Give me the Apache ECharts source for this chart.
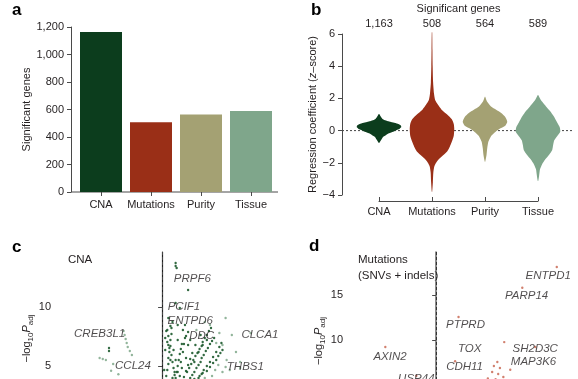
<!DOCTYPE html>
<html><head><meta charset="utf-8">
<script src="https://cdn.jsdelivr.net/npm/echarts@6/dist/echarts.min.js"></script>
<style>html,body{margin:0;padding:0;background:#fff}#c{width:578px;height:379px}</style>
</head><body><div id="c"></div>
<script>
// ---------- data ----------
const categories = ['CNA', 'Mutations', 'Purity', 'Tissue'];
const sigGenes = [1163, 508, 564, 589];
const panelColors = ['#0c3d1d', '#9a2f17', '#a4a173', '#7fa68b'];

// violin profiles (regression coefficient z-score, relative density)
const violinCnaY = [1.03, 0.85, 0.7, 0.6, 0.5, 0.42, 0.32, 0.22, 0.12, 0.02, -0.07, -0.17, -0.27, -0.4, -0.55, -0.77];
const violinCnaDensity = [0.01, 0.09, 0.18, 0.36, 0.64, 0.84, 0.98, 1.0, 0.93, 0.77, 0.64, 0.45, 0.32, 0.18, 0.11, 0.01];
const violinMutY = [6.1, 5, 4, 3, 2.3, 1.9, 1.6, 1.3, 1.0, 0.7, 0.4, 0.1, -0.3, -0.7, -1.0, -1.3, -1.6, -1.9, -2.2, -2.6, -3.2, -3.8];
const violinMutDensity = [0.01, 0.02, 0.03, 0.05, 0.09, 0.14, 0.27, 0.43, 0.68, 0.89, 0.98, 1.0, 0.98, 0.89, 0.8, 0.68, 0.45, 0.23, 0.11, 0.06, 0.04, 0.01];
const violinPurY = [2.1, 1.8, 1.5, 1.3, 1.1, 0.85, 0.55, 0.3, 0.1, -0.1, -0.35, -0.7, -1.1, -1.5, -1.93];
const violinPurDensity = [0.01, 0.09, 0.27, 0.5, 0.73, 0.91, 1.0, 0.91, 0.64, 0.45, 0.27, 0.15, 0.1, 0.07, 0.01];
const violinTisY = [2.21, 2.0, 1.8, 1.5, 1.2, 0.9, 0.5, 0.2, -0.07, -0.35, -0.6, -0.9, -1.2, -1.5, -1.8, -2.1, -2.4, -2.8, -3.13];
const violinTisDensity = [0.01, 0.09, 0.18, 0.36, 0.55, 0.7, 0.86, 0.98, 1.0, 0.86, 0.73, 0.68, 0.64, 0.5, 0.32, 0.18, 0.09, 0.05, 0.01];

// volcano c (CNA): [coefficient, -log10 Padj]
const cnaDarkPoints = [
  [0.13,13.73],[0.13,13.47],[0.14,13.31],[0.25,11.44],[0.13,10.34],[0.17,9.92],[0.06,9.07],[0.08,8.39],[0.04,7.97],
  [0.04,4.15],[0.05,4.66],[0.06,5.17],[0.06,5.68],[0.07,6.19],[0.08,6.69],[0.08,7.20],[0.09,7.71],[0.09,8.22],[0.10,8.73],
  [0.13,3.98],[0.14,4.49],[0.15,5.00],[0.16,5.51],[0.17,6.02],[0.18,6.44],[0.19,6.86],
  [0.27,3.98],[0.29,4.24],[0.31,4.49],[0.33,4.83],[0.35,5.08],[0.37,5.34],[0.38,5.68],[0.40,5.93],[0.42,6.27],[0.44,6.53],[0.46,6.86],[0.48,7.12],[0.50,7.37],
  [0.35,3.98],[0.38,4.32],[0.40,4.66],[0.43,5.00],[0.46,5.34],[0.49,5.76],[0.52,6.19],[0.55,6.61],[0.57,6.95],
  [0.21,4.07],[0.23,4.58],[0.25,5.08],[0.27,5.59],[0.29,6.10],
  [0.06,6.78],[0.11,6.36],[0.13,5.51],[0.15,7.20],[0.20,8.05],[0.22,7.37],[0.25,6.78],[0.12,4.49],[0.17,4.15],[0.23,5.68],
  [0.31,5.34],[0.35,6.19],[0.39,6.78],[0.43,7.20],[0.32,6.78],[0.37,7.63],[0.22,8.47],[0.15,8.47],[0.08,5.51],[0.03,6.36],
  [0.03,7.37],[0.02,4.66],[0.10,3.98],[0.19,4.83],[0.27,7.20],[0.25,7.88],[-0.51,6.53],[-0.51,6.27],
  [0.24,4.49],[0.26,4.83],[0.28,5.17],[0.30,5.51],[0.32,5.85],[0.34,6.10],[0.36,6.44],[0.38,6.69],[0.39,7.03],[0.41,7.37],[0.43,7.63],[0.45,7.97],[0.47,8.22],
  [0.31,3.90],[0.36,4.15],[0.39,4.41],[0.43,4.58],[0.46,4.92],[0.49,5.25],[0.52,5.51],[0.54,5.85],[0.56,6.10],[0.58,6.36],
  [0.05,8.05],[0.06,7.54],[0.05,7.03],[0.07,6.53],[0.09,5.93],[0.10,5.34],[0.11,4.83],[0.12,4.24],
  [0.15,4.49],[0.18,5.34],[0.20,6.19],[0.21,6.86],[0.23,7.54]
];
const cnaLightPoints = [
  [0.41,8.73],[0.46,8.47],[0.61,9.07],[0.67,7.63],[0.58,6.78],[0.75,5.34],[0.65,4.66],[0.85,7.80],[0.71,6.19],
  [0.61,4.92],[0.75,4.83],[0.51,4.66],[0.48,4.15],[0.54,5.08],[0.41,3.98],[0.58,4.49],[0.62,5.51],[0.52,6.95],[0.55,7.80],[0.33,8.05],
  [-0.37,7.97],[-0.36,7.63],[-0.35,7.29],[-0.34,6.95],[-0.33,6.61],[-0.31,6.27],[-0.29,5.93],
  [-0.57,5.59],[-0.54,5.51],[-0.60,5.68],[-0.47,5.17],[-0.49,4.60],[-0.42,4.30]
];
const cnaGeneLabels = [
  [-0.60, 7.71, 'CREB3L1'], [-0.28, 5.00, 'CCL24'], [0.29, 12.37, 'PRPF6'], [0.21, 10.00, 'PCIF1'],
  [0.27, 8.81, 'ENTPD6'], [0.38, 7.54, 'DDC'], [0.94, 7.63, 'CLCA1'], [0.80, 4.92, 'THBS1']
];

// volcano d (mutations)
const mutPoints = [
  [1.40,18.12],[1.00,15.81],[0.26,12.55],[0.79,9.77],[1.15,9.22],[-0.59,9.22],[0.22,7.64],
  [0.71,7.56],[0.67,7.11],[0.74,6.89],[0.65,6.45],[0.72,6.22],[0.78,5.89],[0.86,6.69],[0.60,5.73],[0.69,5.64],[-0.23,6.02]
];
const mutGeneLabels = [
  [1.30, 17.10, 'ENTPD1'], [1.05, 14.89, 'PARP14'], [0.34, 11.67, 'PTPRD'], [0.39, 9.00, 'TOX'],
  [1.15, 9.00, 'SH2D3C'], [-0.535, 8.11, 'AXIN2'], [0.33, 7.00, 'CDH11'], [1.13, 7.56, 'MAP3K6'], [-0.23, 5.66, 'USP44']
];

// ---------- chart ----------
const FONT = "'Liberation Sans', Arial, sans-serif";
const TXT = '#231f20';
const AX = '#4a4a4a';
const violins = [
  { y: violinCnaY, d: violinCnaDensity },
  { y: violinMutY, d: violinMutDensity },
  { y: violinPurY, d: violinPurDensity },
  { y: violinTisY, d: violinTisDensity }
];

function renderViolin(params, api) {
  const i = api.value(0);
  const v = violins[i];
  const half = api.size([1, 0])[0] * 0.42;
  const cx = api.coord([i, 0])[0];
  const pts = [];
  for (let j = 0; j < v.y.length; j++) pts.push([cx + v.d[j] * half, api.coord([i, v.y[j]])[1]]);
  for (let j = v.y.length - 1; j >= 0; j--) pts.push([cx - v.d[j] * half, api.coord([i, v.y[j]])[1]]);
  return { type: 'polygon', shape: { points: pts, smooth: 0.2 }, style: { fill: panelColors[i] } };
}

const logName = '−log{sub|10}{it|P}{sub|adj}';
const logRich = {
  sub: { fontSize: 8, verticalAlign: 'bottom', lineHeight: 9, color: TXT, fontFamily: FONT },
  it: { fontStyle: 'italic', fontSize: 11, lineHeight: 16, color: TXT, fontFamily: FONT }
};
const yAxisCommon = {
  axisLine: { show: true, lineStyle: { color: AX, width: 1 } },
  axisTick: { show: true, length: 4, lineStyle: { color: AX } },
  axisLabel: { color: TXT, fontSize: 11, fontFamily: FONT, margin: 7 },
  splitLine: { show: false },
  nameTextStyle: { color: TXT, fontSize: 11, fontFamily: FONT }
};

const chart = echarts.init(document.getElementById('c'), null, { renderer: 'canvas' });
const option = {
  animation: false,
  backgroundColor: '#fff',
  textStyle: { fontFamily: FONT },
  grid: [
    { left: 76, top: 27, width: 200, height: 165, outerBoundsMode: 'none' },
    { left: 379, top: 34, width: 159, height: 161, outerBoundsMode: 'none' },
    { left: 58, top: 252, width: 229, height: 173, outerBoundsMode: 'none' },
    { left: 350, top: 252, width: 224, height: 178, outerBoundsMode: 'none' }
  ],
  xAxis: [
    { gridIndex: 0, type: 'category', data: categories,
      axisLine: { show: false, onZero: false }, axisTick: { show: true, alignWithLabel: true, length: 4, lineStyle: { color: AX } },
      axisLabel: { color: TXT, fontSize: 11, fontFamily: FONT, margin: 7, interval: 0 } },
    { gridIndex: 1, type: 'category', data: categories, boundaryGap: false, offset: 6,
      axisLine: { show: true, onZero: false, lineStyle: { color: AX } },
      axisTick: { show: true, inside: true, length: 4, interval: 0, lineStyle: { color: AX } },
      axisLabel: { color: TXT, fontSize: 11, fontFamily: FONT, margin: 5, interval: 0 } },
    { gridIndex: 1, type: 'category', data: categories, boundaryGap: false, position: 'top',
      axisLine: { show: false, onZero: false }, axisTick: { show: false },
      axisLabel: { color: TXT, fontSize: 11, fontFamily: FONT, margin: 5, interval: 0,
        formatter: (v, i) => sigGenes[i].toLocaleString('en-US') },
      name: 'Significant genes', nameLocation: 'middle', nameGap: 20,
      nameTextStyle: { color: TXT, fontSize: 11, fontFamily: FONT } },
    { gridIndex: 2, type: 'value', min: -1, max: 1.2, show: false },
    { gridIndex: 3, type: 'value', min: -1, max: 1.6, show: false }
  ],
  yAxis: [
    Object.assign({}, yAxisCommon, { gridIndex: 0, type: 'value', min: 0, max: 1200, interval: 200, offset: 5,
      axisLabel: Object.assign({}, yAxisCommon.axisLabel, { formatter: v => v.toLocaleString('en-US') }),
      name: 'Significant genes', nameLocation: 'middle', nameGap: 37 }),
    Object.assign({}, yAxisCommon, { gridIndex: 1, type: 'value', min: -4, max: 6, interval: 2, offset: 37,
      axisLabel: Object.assign({}, yAxisCommon.axisLabel, { formatter: v => (v < 0 ? '−' + (-v) : String(v)) }),
      name: 'Regression coefficient ({z|z}–score)', nameLocation: 'middle', nameGap: 20,
      nameTextStyle: { color: TXT, fontSize: 11, fontFamily: FONT,
        rich: { z: { fontStyle: 'italic', fontSize: 11, color: TXT, fontFamily: FONT } } } }),
    Object.assign({}, yAxisCommon, { gridIndex: 2, type: 'value', min: 0, max: 14.66, interval: 5,
      axisLine: { show: true, lineStyle: { color: '#222', width: 1.2 } },
      axisLabel: Object.assign({}, yAxisCommon.axisLabel, { showMaxLabel: false }),
      name: logName, nameLocation: 'middle', nameGap: 21,
      nameTextStyle: { color: TXT, fontSize: 11, lineHeight: 16, fontFamily: FONT, rich: logRich } }),
    Object.assign({}, yAxisCommon, { gridIndex: 3, type: 'value', min: 0, max: 19.78, interval: 5,
      axisLine: { show: true, lineStyle: { color: '#666', width: 1.5 } },
      axisLabel: Object.assign({}, yAxisCommon.axisLabel, { showMaxLabel: false }),
      name: logName, nameLocation: 'middle', nameGap: 22,
      nameTextStyle: { color: TXT, fontSize: 11, lineHeight: 16, fontFamily: FONT, rich: logRich } })
  ],
  series: [
    { type: 'bar', xAxisIndex: 0, yAxisIndex: 0, barWidth: '84%',
      data: sigGenes.map((v, i) => ({ value: v, itemStyle: { color: panelColors[i] } })) },
    { type: 'custom', xAxisIndex: 1, yAxisIndex: 1, renderItem: renderViolin,
      data: categories.map((c, i) => [i]), encode: { x: 0 }, clip: false, z: 3 },
    { type: 'scatter', xAxisIndex: 3, yAxisIndex: 2, data: cnaLightPoints, symbolSize: 2.4,
      itemStyle: { color: '#7fa88a', opacity: 0.85 },
      markLine: { silent: true, symbol: 'none', label: { show: false },
        lineStyle: { color: '#444', type: [3, 2], width: 1 }, data: [{ xAxis: 0 }] } },
    { type: 'scatter', xAxisIndex: 3, yAxisIndex: 2, data: cnaDarkPoints, symbolSize: 2.4,
      itemStyle: { color: '#1d5a2e', opacity: 0.9 } },
    { type: 'scatter', xAxisIndex: 3, yAxisIndex: 2, symbolSize: 0.1, itemStyle: { color: 'rgba(0,0,0,0)' },
      data: cnaGeneLabels.map(g => ({ value: [g[0], g[1]], name: g[2] })),
      label: { show: true, position: 'inside', formatter: p => p.name, fontStyle: 'italic',
        fontSize: 11.5, color: TXT, fontFamily: FONT }, z: 5 },
    { type: 'scatter', xAxisIndex: 4, yAxisIndex: 3, data: mutPoints, symbolSize: 2.4,
      itemStyle: { color: '#c5604a', opacity: 0.8 },
      markLine: { silent: true, symbol: 'none', label: { show: false },
        lineStyle: { color: '#333', type: [3, 2], width: 1 }, data: [{ xAxis: 0 }] } },
    { type: 'scatter', xAxisIndex: 4, yAxisIndex: 3, symbolSize: 0.1, itemStyle: { color: 'rgba(0,0,0,0)' },
      data: mutGeneLabels.map(g => ({ value: [g[0], g[1]], name: g[2] })),
      label: { show: true, position: 'inside', formatter: p => p.name, fontStyle: 'italic',
        fontSize: 11.5, color: TXT, fontFamily: FONT }, z: 5 }
  ]
};
chart.setOption(option);

// reference lines / axis line and panel annotations
const baseA = chart.convertToPixel({ xAxisIndex: 0, yAxisIndex: 0 }, [0, 0])[1];
const zeroB = chart.convertToPixel({ xAxisIndex: 1, yAxisIndex: 1 }, [0, 0])[1];
const letter = (t, x, y) => ({ type: 'text', x: x, y: y,
  style: { text: t, fontSize: 17, fontWeight: 'bold', fill: '#000', fontFamily: FONT, textVerticalAlign: 'middle' } });
chart.setOption({
  graphic: [
    { type: 'line', shape: { x1: 71, y1: baseA, x2: 278, y2: baseA }, style: { stroke: AX, lineWidth: 1 } },
    { type: 'line', shape: { x1: 342, y1: zeroB, x2: 574, y2: zeroB }, style: { stroke: '#444', lineWidth: 1, lineDash: [2, 2] } },
    letter('a', 12, 10), letter('b', 311, 10), letter('c', 12, 247), letter('d', 309, 246),
    { type: 'text', x: 68, y: 260, style: { text: 'CNA', fontSize: 11.5, fill: TXT, fontFamily: FONT, textVerticalAlign: 'middle' } },
    { type: 'text', x: 358, y: 252, style: { text: 'Mutations\n(SNVs + indels)', fontSize: 11.5, lineHeight: 16, fill: TXT, fontFamily: FONT, textVerticalAlign: 'top' } }
  ]
});
</script></body></html>
